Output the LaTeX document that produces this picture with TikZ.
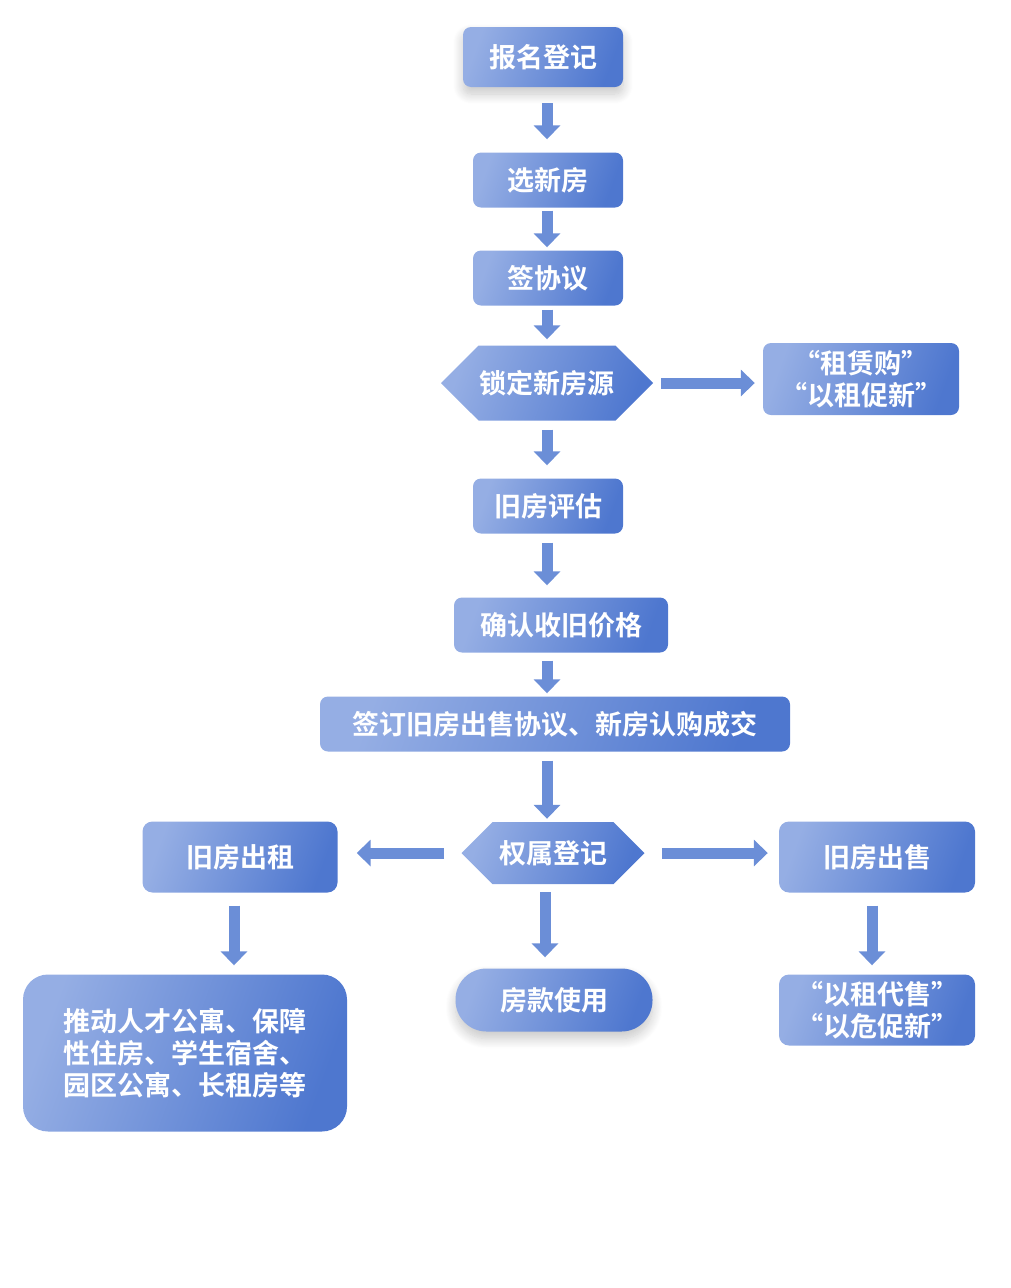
\documentclass[tikz,border=0pt]{standalone}
\usepackage{fontspec}
\usetikzlibrary{arrows.meta,shapes.symbols,shadows.blur}
\newfontfamily\cjk{Noto Sans CJK SC}[BoldFont={Noto Sans CJK SC Bold}]
\definecolor{boxlight}{HTML}{95AEE4}
\definecolor{boxdark}{HTML}{4E77CF}
\definecolor{arrowblue}{HTML}{6B8ED7}

\begin{document}
\begin{tikzpicture}[x=1pt, y=-1pt,
	box/.style={rounded corners=8pt, left color=boxlight, right color=boxdark, shading angle=70,
		text=white, font=\cjk\bfseries\fontsize{27}{32}\selectfont, inner sep=0pt,
		minimum height=55pt, align=center},
	hexbox/.style={box, rounded corners=0pt, signal, signal to=west and east},
	glow/.style={blur shadow={shadow xshift=0pt, shadow yshift=-7pt, shadow blur radius=10pt,
		shadow opacity=22, shadow blur steps=12}},
	flow/.style={draw=arrowblue, line width=11pt, -{Triangle[width=26pt,length=14pt]}}]
	\useasboundingbox (0,0) rectangle (1011,1288);
	\coordinate (spine) at (547,0);

	\node[box, glow, minimum width=160pt, minimum height=60pt] (signup) at (543,57) {报名登记};
	\node[box, minimum width=150pt] (pick) at (548,180) {选新房};
	\node[box, minimum width=150pt] (agree) at (548,278) {签协议};
	\node[hexbox, minimum width=212pt, minimum height=75pt] (lock) at (547,383) {锁定新房源};
	\node[box, minimum width=196pt, minimum height=72pt] (lease) at (861,379) {“租赁购”\\“以租促新”};
	\node[box, minimum width=150pt] (assess) at (548,506) {旧房评估};
	\node[box, minimum width=214pt] (price) at (561,625) {确认收旧价格};
	\node[box, minimum width=470pt] (deal) at (555,724) {签订旧房出售协议、新房认购成交};
	\node[hexbox, minimum width=183pt, minimum height=62pt] (title) at (553,853) {权属登记};
	\node[box, rounded corners=10pt, minimum width=195pt, minimum height=71pt] (rent) at (240,857) {旧房出租};
	\node[box, rounded corners=10pt, minimum width=196pt, minimum height=71pt] (sell) at (877,857) {旧房出售};
	\node[box, rounded corners=25pt, minimum width=324pt, minimum height=157pt, align=left] (apart) at (185,1053)
		{推动人才公寓、保障\\性住房、学生宿舍、\\园区公寓、长租房等};
	\node[box, glow, rounded corners=31pt, minimum width=197pt, minimum height=63pt] (fund) at (554,1000) {房款使用};
	\node[box, rounded corners=10pt, minimum width=196pt, minimum height=71pt] (resale) at (877,1010) {“以租代售”\\“以危促新”};

	\draw[flow, shorten <=16pt, shorten >=13pt] (signup.south -| spine) -- (pick.north -| spine);
	\draw[flow, shorten <=3pt, shorten >=3pt] (pick.south -| spine) -- (agree.north -| spine);
	\draw[flow, shorten <=4pt, shorten >=6pt] (agree.south -| spine) -- (lock.north -| spine);
	\draw[flow, shorten <=8pt, shorten >=8pt] (lock.east) -- (lease.west |- lock.east);
	\draw[flow, shorten <=9pt, shorten >=13pt] (lock.south -| spine) -- (assess.north -| spine);
	\draw[flow, shorten <=9pt, shorten >=12pt] (assess.south -| spine) -- (price.north -| spine);
	\draw[flow, shorten <=8pt, shorten >=3pt] (price.south -| spine) -- (deal.north -| spine);
	\draw[flow, shorten <=9pt, shorten >=3pt] (deal.south -| spine) -- (title.north -| spine);
	\draw[flow, shorten <=17pt, shorten >=19pt] (title.west) -- (rent.east |- title.west);
	\draw[flow, shorten <=17pt, shorten >=11pt] (title.east) -- (sell.west |- title.east);
	\draw[flow, shorten <=8pt, shorten >=11pt] (title.south -| 545,0) -- (fund.north -| 545,0);
	\draw[flow, shorten <=13pt, shorten >=9pt] (rent.south -| 234,0) -- (apart.north -| 234,0);
	\draw[flow, shorten <=13pt, shorten >=9pt] (sell.south -| 872,0) -- (resale.north -| 872,0);
\end{tikzpicture}
\end{document}
